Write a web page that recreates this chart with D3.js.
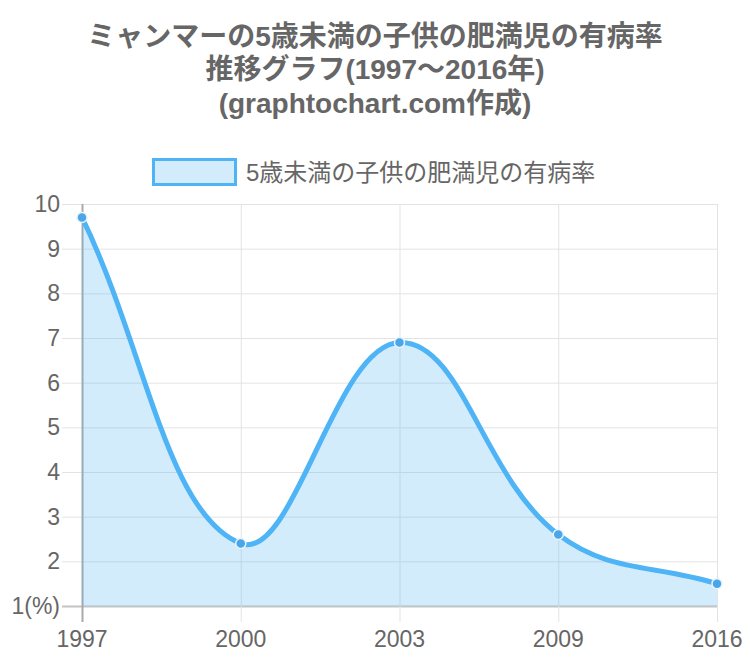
<!DOCTYPE html>
<html><head><meta charset="utf-8">
<script src="https://cdn.jsdelivr.net/npm/d3@7"></script>
<style>body{margin:0;background:#fff;}svg{display:block;font-family:"Liberation Sans",Arial,"Noto Sans CJK JP",sans-serif;}</style>
</head><body>
<svg id="c" width="750" height="666"></svg>
<script>
const titleLines = ["ミャンマーの5歳未満の子供の肥満児の有病率", "推移グラフ(1997〜2016年)", "(graphtochart.com作成)"];
const legendLabel = "5歳未満の子供の肥満児の有病率";
const years = ["1997", "2000", "2003", "2009", "2016"];
const values = [9.7, 2.4, 6.9, 2.6, 1.5];
const yTicks = [1, 2, 3, 4, 5, 6, 7, 8, 9, 10];
const yTickLabels = ["1(%)", "2", "3", "4", "5", "6", "7", "8", "9", "10"];

(function () {
const svg = d3.select("#c");
const pL = 82, pR = 717, pT = 204, pB = 606;
const x = d3.scalePoint().domain(years).range([pL, pR]);
const y = d3.scaleLinear().domain([1, 10]).range([pB, pT]);
const lineColor = "#4fb4f5";

svg.append("g").selectAll("text").data(titleLines).join("text")
  .attr("x", 375).attr("y", (d, i) => 36 + i * 33.6)
  .attr("text-anchor", "middle").attr("dominant-baseline", "central")
  .attr("font-size", 28).attr("font-weight", "bold").attr("fill", "#666")
  .text(d => d);

const lg = svg.append("g");
lg.append("rect").attr("x", 153.5).attr("y", 159.5).attr("width", 82).attr("height", 25)
  .attr("fill", "rgba(79,180,245,0.25)").attr("stroke", lineColor).attr("stroke-width", 3);
lg.append("text").attr("x", 246).attr("y", 172).attr("dominant-baseline", "central")
  .attr("font-size", 24).attr("fill", "#666").text(legendLabel);

const grid = svg.append("g");
yTicks.forEach(t => {
  grid.append("line").attr("x1", pL - 20).attr("x2", pR).attr("y1", y(t) + 0.5).attr("y2", y(t) + 0.5)
    .attr("stroke", t === 1 ? "#c4c4c4" : "#e3e3e3").attr("stroke-width", t === 1 ? 2 : 1);
});
years.forEach((c, i) => {
  grid.append("line").attr("x1", x(c) + 0.5).attr("x2", x(c) + 0.5).attr("y1", pT).attr("y2", pB + 16)
    .attr("stroke", i === 0 ? "#aaa" : "#e3e3e3").attr("stroke-width", i === 0 ? 2 : 1);
});

svg.append("g").selectAll("text").data(yTicks).join("text")
  .attr("x", pL - 22).attr("y", d => y(d)).attr("text-anchor", "end").attr("dominant-baseline", "central")
  .attr("font-size", 23).attr("fill", "#666").text((d, i) => yTickLabels[i]);
svg.append("g").selectAll("text").data(years).join("text")
  .attr("x", d => x(d)).attr("y", 639).attr("text-anchor", "middle").attr("dominant-baseline", "central")
  .attr("font-size", 23).attr("fill", "#666").text(d => d);

const pts = years.map((c, i) => ({ x: x(c), y: y(values[i]) }));
const t = 0.4;
pts.forEach((p, i) => {
  const prev = pts[i - 1] || p, next = pts[i + 1] || p;
  const d01 = Math.hypot(p.x - prev.x, p.y - prev.y);
  const d12 = Math.hypot(next.x - p.x, next.y - p.y);
  let s01 = d01 / (d01 + d12), s12 = d12 / (d01 + d12);
  if (isNaN(s01)) s01 = 0; if (isNaN(s12)) s12 = 0;
  const fa = t * s01, fb = t * s12;
  p.cpPrev = { x: p.x - fa * (next.x - prev.x), y: p.y - fa * (next.y - prev.y) };
  p.cpNext = { x: p.x + fb * (next.x - prev.x), y: p.y + fb * (next.y - prev.y) };
  [p.cpPrev, p.cpNext].forEach(cp => {
    cp.x = Math.max(pL, Math.min(pR, cp.x));
    cp.y = Math.max(pT, Math.min(pB, cp.y));
  });
});
const path = d3.path();
path.moveTo(pts[0].x, pts[0].y);
for (let i = 1; i < pts.length; i++) {
  const a = pts[i - 1], b = pts[i];
  path.bezierCurveTo(a.cpNext.x, a.cpNext.y, b.cpPrev.x, b.cpPrev.y, b.x, b.y);
}
const lineD = path.toString();
svg.append("path").attr("d", lineD + `L${pts[pts.length - 1].x},${pB}L${pts[0].x},${pB}Z`)
  .attr("fill", "rgba(79,180,245,0.25)");
svg.append("path").attr("d", lineD).attr("fill", "none").attr("stroke", lineColor).attr("stroke-width", 5);
svg.append("g").selectAll("circle").data(pts).join("circle")
  .attr("cx", d => d.x).attr("cy", d => d.y).attr("r", 5)
  .attr("fill", "#4aa6e8").attr("stroke", "#e8f4fc").attr("stroke-width", 1.5);
})();
</script>
</body></html>
